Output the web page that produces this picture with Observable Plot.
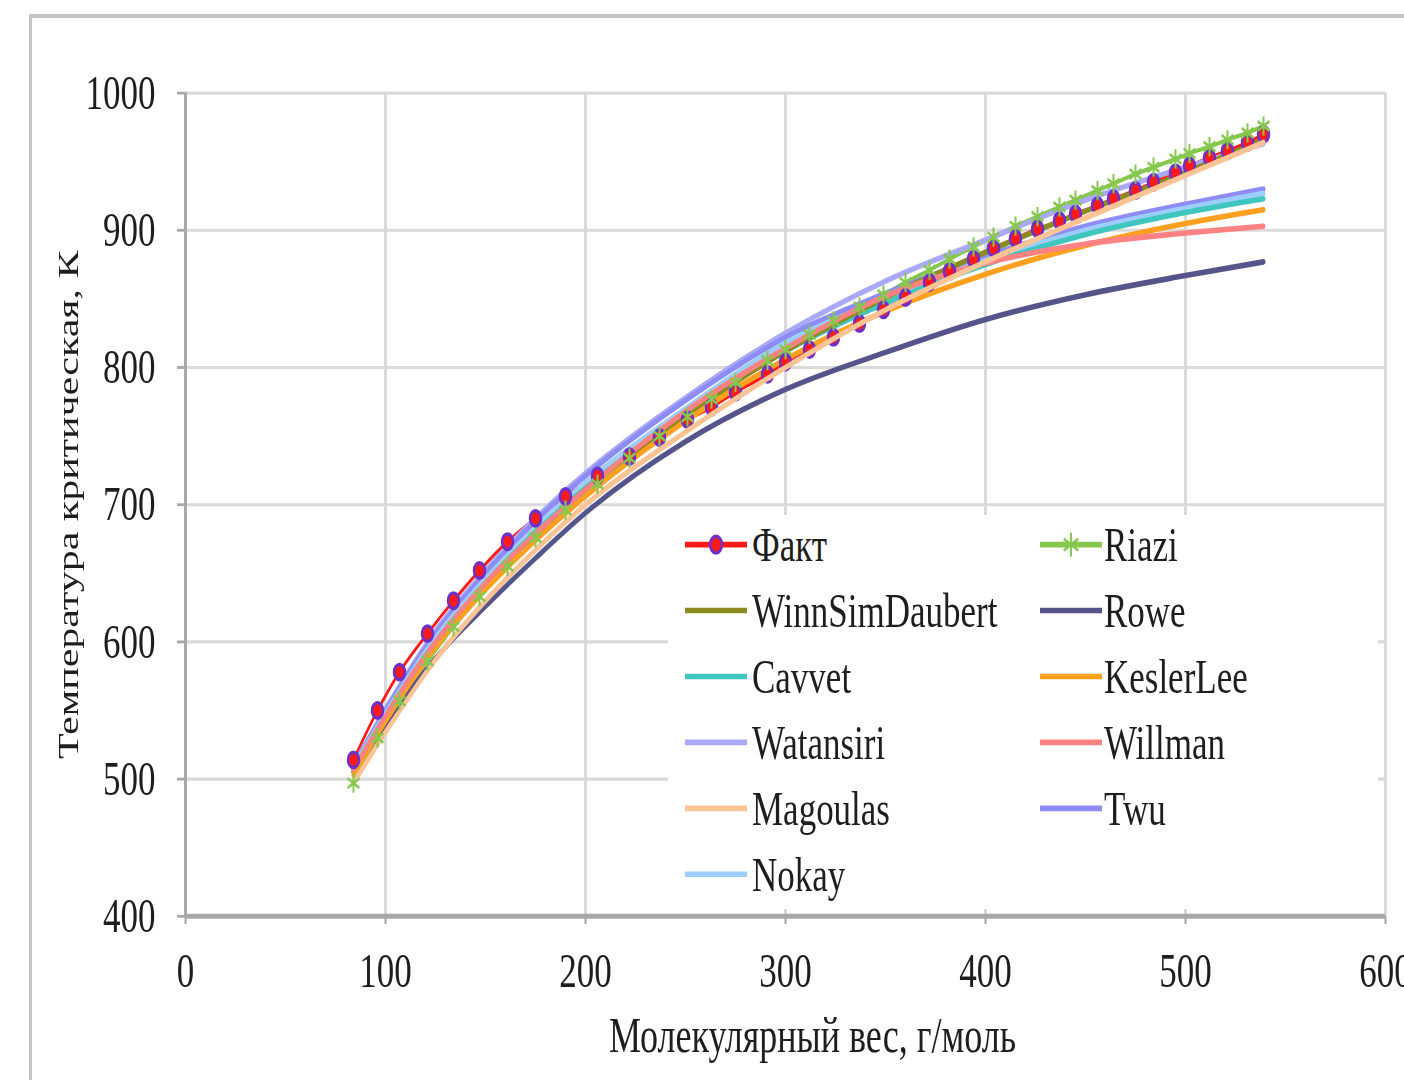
<!DOCTYPE html>
<html>
<head>
<meta charset="utf-8">
<script src="https://cdn.jsdelivr.net/npm/d3@7"></script>
<script src="https://cdn.jsdelivr.net/npm/@observablehq/plot@0.6"></script>
<style>
  html, body { margin: 0; padding: 0; background: #fff; overflow: hidden; width: 1404px; height: 1080px; }
  #frame { position: absolute; left: 29px; top: 14px; width: 1500px; height: 1200px;
           border-left: 3px solid #c4c4c4; border-top: 4px solid #c4c4c4; }
  /* the whole figure is drawn at 1404x771 and stretched vertically to fill the page */
  #stage { position: absolute; left: 0; top: 0; width: 1404px; height: 771px;
           transform: scaleY(1.4); transform-origin: 0 0; }
  #stage svg { position: absolute; left: 0; top: 0; overflow: hidden; }
</style>
</head>
<body>
<div id="frame"></div>
<div id="stage"></div>
<script>
// Molecular weight of single carbon number fractions, g/mol
const molWeight = [84, 96, 107, 121, 134, 147, 161, 175, 190, 206, 222, 237, 251, 263, 275, 291, 300, 312, 324, 337,
                   349, 360, 372, 382, 394, 404, 415, 426, 437, 445, 456, 464, 475, 484, 495, 502, 512, 521, 531, 539];

// Measured critical temperature, K
const factTc = [514, 550, 578, 606, 630, 652, 673, 690, 706, 721, 735, 749, 762, 771, 782, 795, 804, 813, 822, 832,
                842, 851, 862, 870, 879, 887, 894, 901, 907, 912, 918, 923, 929, 935, 942, 947, 953, 958, 964, 970];

// Riazi correlation, K
const riaziTc = [497, 530, 557, 586, 611, 633, 655, 676, 696, 715, 734, 750, 764, 777, 789, 805, 813, 824, 834, 844,
                 853, 862, 871, 879, 888, 895, 903, 910, 917, 922, 929, 934, 941, 946, 952, 956, 961, 966, 971, 976];

// Other correlations, evaluated at these molecular weights
const modelMw = [84, 100, 125, 150, 175, 200, 250, 300, 350, 400, 450, 500, 539];
const winnSimDaubertTc = [506, 545, 598, 641, 678, 711, 765, 812, 851, 884, 914, 942, 966];
const roweTc           = [505, 540, 588, 626, 661, 694, 746, 784, 811, 835, 853, 867, 877];
const cavvetTc         = [507, 546, 600, 643, 680, 712, 766, 812, 847, 875, 897, 913, 923];
const keslerLeeTc      = [503, 542, 596, 638, 674, 706, 761, 806, 841, 868, 889, 905, 915];
const watansiriTc      = [510, 551, 608, 652, 690, 723, 778, 825, 863, 893, 922, 946, 963];
const willmanTc        = [507, 546, 600, 643, 679, 711, 768, 814, 852, 876, 890, 898, 903];
const magoulasTc       = [497, 534, 587, 630, 667, 700, 753, 800, 842, 877, 909, 940, 964];
const twuTc            = [510, 550, 606, 650, 688, 721, 776, 822, 854, 881, 903, 919, 930];
const nokayTc          = [509, 548, 603, 646, 683, 716, 770, 818, 850, 878, 900, 916, 927];

const seriesNames  = ["Факт", "Riazi", "WinnSimDaubert", "Rowe", "Cavvet", "KeslerLee",
                      "Watansiri", "Willman", "Magoulas", "Twu", "Nokay"];
const seriesColors = ["#ff1a1a", "#86c84e", "#8b8b22", "#55558c", "#3fc6be", "#ffa01e",
                      "#a9a9f7", "#ff8282", "#fcc395", "#8c8cf4", "#9ccdfc"];

const xTicks = [0, 100, 200, 300, 400, 500, 600];
const yTicks = [400, 500, 600, 700, 800, 900, 1000];
const xTitle = "Молекулярный вес, г/моль";
const yTitle = "Температура критическая, К";

const colorOf = Object.fromEntries(seriesNames.map((n, i) => [n, seriesColors[i]]));
const modelSeries = {
  "WinnSimDaubert": winnSimDaubertTc, "Rowe": roweTc, "Cavvet": cavvetTc, "KeslerLee": keslerLeeTc,
  "Watansiri": watansiriTc, "Willman": willmanTc, "Magoulas": magoulasTc, "Twu": twuTc, "Nokay": nokayTc
};
// stacking order of the correlation curves (first drawn lies underneath)
const underFact = ["Rowe", "Watansiri", "Twu", "Nokay", "Cavvet", "WinnSimDaubert", "KeslerLee", "Willman"];
const overFact = ["Magoulas"];
const rowsFor = names => names.flatMap(name => modelSeries[name].map((tc, i) => ({name, mw: modelMw[i], tc})));

const factRows = molWeight.map((mw, i) => ({mw, tc: factTc[i]}));
const riaziRows = molWeight.map((mw, i) => ({mw, tc: riaziTc[i]}));

const font = "'Liberation Serif', 'Times New Roman', serif";
const gridColor = "#dadada";
const axisColor = "#a8a8a8";

const chart = Plot.plot({
  width: 1404,
  height: 771,
  marginLeft: 185,
  marginRight: 19,
  marginTop: 66,
  marginBottom: 117,
  style: {fontFamily: font, fontSize: "35px", color: "#1e1e1e", background: "transparent"},
  x: {domain: [0, 600]},
  y: {domain: [400, 1000]},
  color: {domain: seriesNames, range: seriesColors},
  marks: [
    Plot.gridY(yTicks, {stroke: gridColor, strokeOpacity: 1, strokeWidth: 2.2}),
    Plot.gridX(xTicks, {stroke: gridColor, strokeOpacity: 1, strokeWidth: 3}),
    Plot.axisY(yTicks, {tickSize: 8, tickPadding: 22, stroke: axisColor, strokeWidth: 2, fill: "#1e1e1e",
                        fontSize: 35, tickFormat: d => String(d), label: null}),
    Plot.axisX(xTicks, {tickSize: 6, tickPadding: 20, stroke: axisColor, strokeWidth: 2, fill: "#1e1e1e",
                        fontSize: 35, tickFormat: d => String(d), label: null}),
    Plot.ruleX([0], {stroke: axisColor, strokeWidth: 3}),
    Plot.ruleY([400], {stroke: axisColor, strokeWidth: 3.5}),

    Plot.line(riaziRows, {x: "mw", y: "tc", stroke: colorOf["Riazi"], strokeWidth: 3, curve: "monotone-x"}),
    Plot.line(factRows, {x: "mw", y: "tc", stroke: colorOf["Факт"], strokeWidth: 2.5, curve: "monotone-x"}),
    Plot.line(rowsFor(underFact), {x: "mw", y: "tc", z: "name", stroke: "name", strokeWidth: 4, curve: "monotone-x"}),

    Plot.dot(factRows, {x: "mw", y: "tc", r: 5.5, fill: colorOf["Факт"], stroke: "#7030c8", strokeWidth: 2.5}),

    Plot.line(rowsFor(overFact), {x: "mw", y: "tc", z: "name", stroke: "name", strokeWidth: 4, curve: "monotone-x"}),
    Plot.dot(riaziRows, {x: "mw", y: "tc", r: 6.5, symbol: "asterisk", stroke: colorOf["Riazi"], strokeWidth: 2}),

    Plot.text([yTitle], {frameAnchor: "left", textAnchor: "middle", dx: -117, rotate: -90, fontSize: 30, fill: "#1e1e1e"}),
    Plot.text([xTitle], {frameAnchor: "bottom", textAnchor: "middle", dx: 27, dy: 97, fontSize: 36, fill: "#1e1e1e"})
  ]
});

const stage = document.getElementById("stage");
stage.appendChild(chart);

// Legend box drawn over the lower right part of the plot area
const legendBox = {left: 668, top: 368, width: 710, height: 281};
const legendRowTop = 389, legendRowStep = 47.1;
const legendCols = [{line: 685, text: 752}, {line: 1040, text: 1104}];
const swatchLength = 62;

const legend = d3.create("svg")
  .attr("width", 1404).attr("height", 771)
  .style("font-family", font).style("font-size", "35px");

legend.append("rect")
  .attr("x", legendBox.left).attr("y", legendBox.top)
  .attr("width", legendBox.width).attr("height", legendBox.height)
  .attr("fill", "#fff");

seriesNames.forEach((name, i) => {
  const col = legendCols[i % 2];
  const cy = legendRowTop + Math.floor(i / 2) * legendRowStep;
  const g = legend.append("g");
  g.append("line")
    .attr("x1", col.line).attr("x2", col.line + swatchLength)
    .attr("y1", cy).attr("y2", cy)
    .attr("stroke", colorOf[name]).attr("stroke-width", 4);
  if (name === "Факт") {
    g.append("circle")
      .attr("cx", col.line + swatchLength / 2).attr("cy", cy).attr("r", 6)
      .attr("fill", colorOf[name]).attr("stroke", "#7030c8").attr("stroke-width", 2.5);
  }
  if (name === "Riazi") {
    g.append("path")
      .attr("transform", `translate(${col.line + swatchLength / 2},${cy})`)
      .attr("d", d3.symbol(d3.symbolAsterisk, Math.PI * 8 * 8)())
      .attr("fill", "none").attr("stroke", colorOf[name]).attr("stroke-width", 2);
  }
  g.append("text")
    .attr("x", col.text).attr("y", cy)
    .attr("dominant-baseline", "central")
    .attr("fill", "#1e1e1e")
    .text(name);
});

stage.appendChild(legend.node());
</script>
</body>
</html>
